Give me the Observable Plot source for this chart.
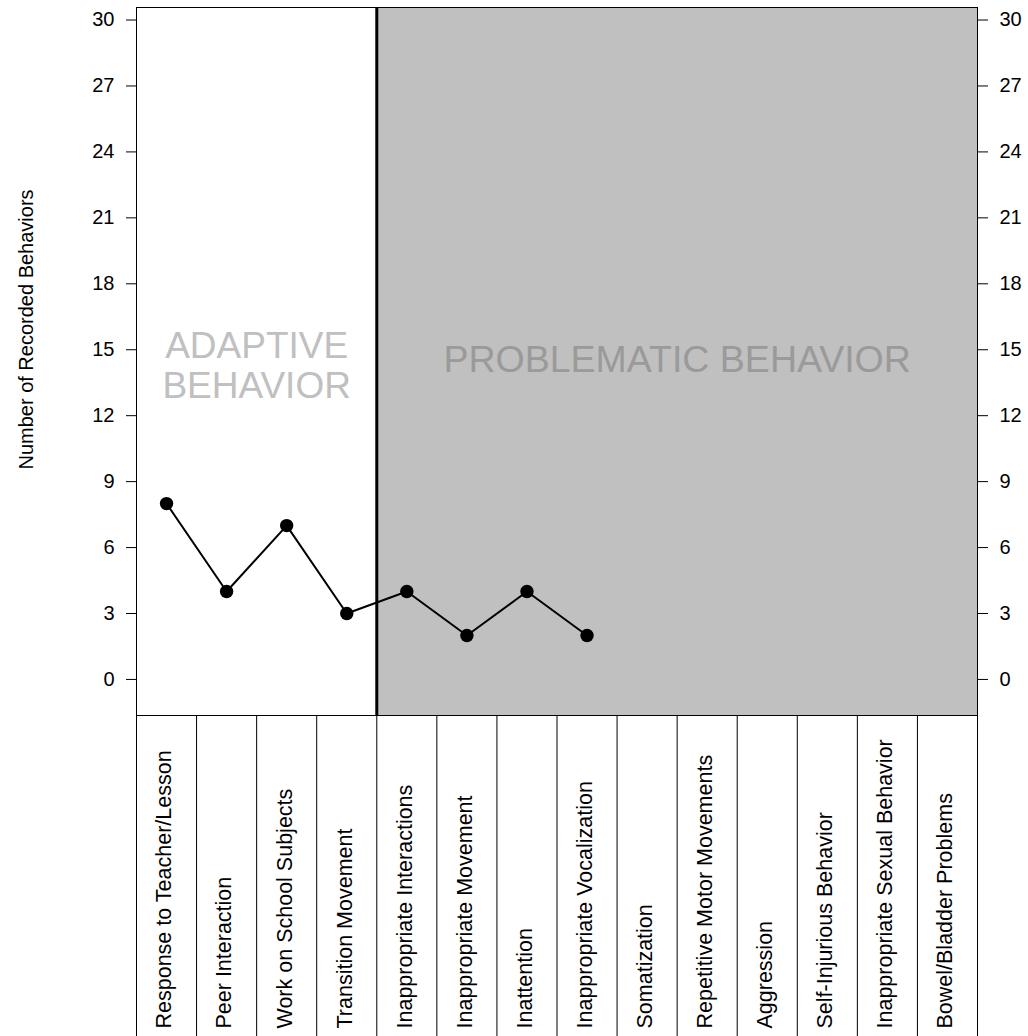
<!DOCTYPE html>
<html>
<head>
<meta charset="utf-8">
<script src="https://cdn.jsdelivr.net/npm/d3@7"></script>
<script src="https://cdn.jsdelivr.net/npm/@observablehq/plot@0.6"></script>
<style>
  body { margin: 0; background: #fff; font-family: "Liberation Sans", Arial, sans-serif; }
  #chart svg { display: block; }
  #chart g[aria-label="y-axis tick label"] { font-size: 20px; }
</style>
</head>
<body>
<div id="chart"></div>
<script>
// ---- data ----
const categories = [
  "Response to Teacher/Lesson",
  "Peer Interaction",
  "Work on School Subjects",
  "Transition Movement",
  "Inappropriate Interactions",
  "Inappropriate Movement",
  "Inattention",
  "Inappropriate Vocalization",
  "Somatization",
  "Repetitive Motor Movements",
  "Aggression",
  "Self-Injurious Behavior",
  "Inappropriate Sexual Behavior",
  "Bowel/Bladder Problems"
];
const counts = [8, 4, 7, 3, 4, 2, 4, 2];
const yTicks = [0, 3, 6, 9, 12, 15, 18, 21, 24, 27, 30];
const yDomain = [-1.64, 30.57];
const adaptiveCount = 4;
const groupLabels = ["ADAPTIVE\nBEHAVIOR", "PROBLEMATIC BEHAVIOR"];
const groupLabelY = [14.28, 14.55];
const yTitle = "Number of Recorded Behaviors";

// ---- derived ----
const n = categories.length;
const points = counts.map((v, i) => ({pos: i + 1, v}));
const xDomain = [0.5, n + 0.5];
const split = adaptiveCount + 0.5;
const font = "'Liberation Sans', Arial, sans-serif";

const mainChart = Plot.plot({
  width: 1028,
  height: 716,
  marginLeft: 136,
  marginRight: 51,
  marginTop: 7,
  marginBottom: 1,
  x: {domain: xDomain, axis: null},
  y: {domain: yDomain, axis: null},
  style: {fontFamily: font, fontSize: "20px", background: "white", color: "black"},
  marks: [
    Plot.rect([0], {x1: split, x2: n + 0.5, fill: "#c0c0c0"}),
    Plot.frame({stroke: "black", strokeWidth: 1}),
    Plot.ruleX([split], {stroke: "black", strokeWidth: 3}),
    Plot.axisY(yTicks, {anchor: "left", tickSize: 10, tickPadding: 12, fontSize: 20, label: null}),
    Plot.axisY(yTicks, {anchor: "right", tickSize: 10, tickPadding: 12, fontSize: 20, label: null}),
    Plot.line(points, {x: "pos", y: "v", stroke: "black", strokeWidth: 2}),
    Plot.dot(points, {x: "pos", y: "v", r: 6.7, fill: "black", stroke: "none"}),
    Plot.text([groupLabels[0]], {
      x: (adaptiveCount + 1) / 2, y: groupLabelY[0],
      fontSize: 37, lineHeight: 1.07, fill: "#c0c0c0", textAnchor: "middle"
    }),
    Plot.text([groupLabels[1]], {
      x: (split + n + 0.5) / 2, y: groupLabelY[1],
      fontSize: 37.5, fill: "#9a9a9a", textAnchor: "middle"
    }),
    Plot.text([yTitle], {
      frameAnchor: "left", textAnchor: "middle", lineAnchor: "middle",
      dx: -109.5, dy: -32, rotate: -90, fontSize: 20, fill: "black"
    })
  ]
});

const tableChart = Plot.plot({
  width: 1028,
  height: 320,
  marginLeft: 136,
  marginRight: 51,
  marginTop: 0,
  marginBottom: 0,
  x: {domain: xDomain, axis: null},
  y: {domain: [0, 1], axis: null},
  style: {fontFamily: font, fontSize: "21.5px", background: "white", color: "black"},
  marks: [
    Plot.ruleX(d3.range(n + 1).map(i => i + 0.5), {stroke: "black", strokeWidth: 1}),
    Plot.text(categories, {
      x: (d, i) => i + 1, frameAnchor: "bottom", rotate: -90,
      textAnchor: "start", lineAnchor: "middle", dy: -8, dx: -2, fontSize: 21.5, fill: "black"
    })
  ]
});

document.getElementById("chart").append(mainChart, tableChart);
</script>
</body>
</html>
